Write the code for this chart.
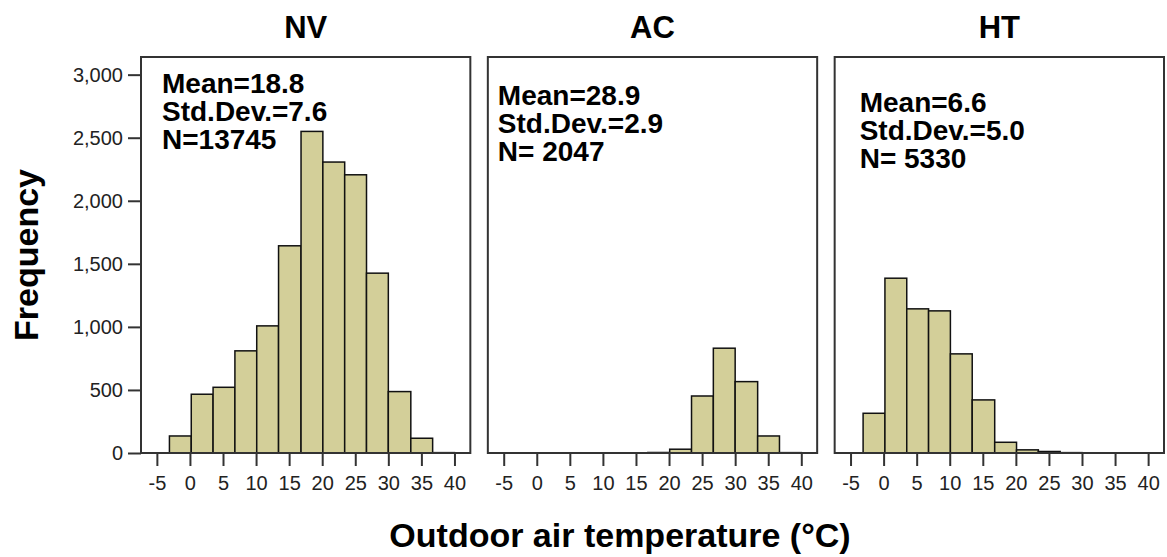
<!DOCTYPE html>
<html>
<head>
<meta charset="utf-8">
<script src="https://cdn.jsdelivr.net/npm/d3@7"></script>
<style>
  body { margin: 0; background: #fff; }
  svg { display: block; font-family: "Liberation Sans", Arial, sans-serif; }
</style>
</head>
<body>
<div id="chart"></div>
<script>
// histogram bins (outdoor air temperature, °C) - same for all panels
const binEdges = [-3.1, 0.2, 3.5, 6.8, 10.1, 13.4, 16.8, 20.1, 23.4, 26.7, 30.0, 33.4, 36.7, 40.0];
const groups = ["NV", "AC", "HT"];
const nvCounts = [135, 466, 521, 810, 1008, 1643, 2550, 2307, 2206, 1426, 487, 117, 3];
const acCounts = [0, 0, 2, 0, 2, 0, 4, 30, 452, 831, 566, 135, 3];
const htCounts = [315, 1386, 1143, 1127, 786, 421, 85, 25, 12, 3, 2, 1, 1];
const means = ["18.8", "28.9", "6.6"];
const stdDevs = ["7.6", "2.9", "5.0"];
const nValues = ["13745", " 2047", " 5330"];
const xTicks = [-5, 0, 5, 10, 15, 20, 25, 30, 35, 40];
const yTicks = [0, 500, 1000, 1500, 2000, 2500, 3000];

function drawChart() {
  let W = 1167,
    H = 557;
  var margin = { top: 57, left: 141, right: 3, bottom: 104 },
    gap = 17.5,
    plotW = W - margin.left - margin.right,
    panelW = (plotW - gap * 2) / 3,
    height = H - margin.top - margin.bottom;

  let countsByGroup = [nvCounts, acCounts, htCounts];

  let svg = d3
    .select("#chart")
    .append("svg")
    .attr("width", W)
    .attr("height", H);

  // shared y scale
  var y = d3
    .scaleLinear()
    .domain([0, 3140])
    .range([margin.top + height, margin.top]);

  // x scale of one panel (local coords)
  var x = d3
    .scaleLinear()
    .domain([-7.4, 42.4])
    .range([0, panelW]);

  //////////
  // Y AXIS //
  //////////
  let yAxis = svg
    .append("g")
    .attr("transform", "translate(" + margin.left + ",0)")
    .call(
      d3
        .axisLeft(y)
        .tickValues(yTicks)
        .tickFormat(d3.format(","))
        .tickSize(13)
        .tickSizeOuter(0)
        .tickPadding(5)
    );
  yAxis.select(".domain").remove();
  yAxis.selectAll("line").attr("stroke", "#333").attr("stroke-width", 2);
  yAxis
    .selectAll("text")
    .style("font-size", "20px")
    .style("font-family", "'Liberation Sans', Arial, sans-serif")
    .attr("fill", "#222");

  svg
    .append("text")
    .attr("transform", "translate(38," + (margin.top + height / 2) + ") rotate(-90)")
    .attr("text-anchor", "middle")
    .style("font-size", "34px")
    .style("font-weight", "bold")
    .text("Frequency");

  svg
    .append("text")
    .attr("x", 620)
    .attr("y", 547)
    .attr("text-anchor", "middle")
    .style("font-size", "34px")
    .style("font-weight", "bold")
    .text("Outdoor air temperature (°C)");

  // annotation placement inside each panel [dx, first baseline]
  let notePos = [
    [21, 93],
    [10, 105],
    [25, 112]
  ];

  //////////
  // PANELS //
  //////////
  groups.forEach((name, i) => {
    let left = margin.left + i * (panelW + gap);
    let g = svg.append("g").attr("transform", "translate(" + left + ",0)");

    let bins = countsByGroup[i]
      .map((c, k) => ({ x0: binEdges[k], x1: binEdges[k + 1], count: c }))
      .filter(d => d.count > 0);

    g.selectAll("rect.bar")
      .data(bins)
      .enter()
      .append("rect")
      .attr("class", "bar")
      .attr("x", d => x(d.x0))
      .attr("width", d => x(d.x1) - x(d.x0))
      .attr("y", d => y(d.count))
      .attr("height", d => y(0) - y(d.count))
      .attr("fill", "#d3cf99")
      .attr("stroke", "#111")
      .attr("stroke-width", 1.5);

    // frame
    g.append("rect")
      .attr("x", 0)
      .attr("y", margin.top)
      .attr("width", panelW)
      .attr("height", height)
      .attr("fill", "none")
      .attr("stroke", "#333")
      .attr("stroke-width", 2);

    // x axis
    let xAxis = g
      .append("g")
      .attr("transform", "translate(0," + (margin.top + height) + ")")
      .call(
        d3
          .axisBottom(x)
          .tickValues(xTicks)
          .tickFormat(d => String(d))
          .tickSize(13)
          .tickSizeOuter(0)
          .tickPadding(10)
      );
    xAxis.select(".domain").remove();
    xAxis.selectAll("line").attr("stroke", "#333").attr("stroke-width", 2);
    xAxis
      .selectAll("text")
      .style("font-size", "20px")
      .style("font-family", "'Liberation Sans', Arial, sans-serif")
      .attr("fill", "#222");

    // panel title
    g.append("text")
      .attr("x", panelW / 2)
      .attr("y", 38)
      .attr("text-anchor", "middle")
      .style("font-size", "31px")
      .style("font-weight", "bold")
      .text(name);

    // stats
    let lines = ["Mean=" + means[i], "Std.Dev.=" + stdDevs[i], "N=" + nValues[i]];
    g.selectAll("text.note")
      .data(lines)
      .enter()
      .append("text")
      .attr("class", "note")
      .attr("x", notePos[i][0])
      .attr("y", (d, k) => notePos[i][1] + k * 28)
      .style("font-size", "28px")
      .style("font-weight", "bold")
      .style("white-space", "pre")
      .text(d => d);
  });
}
drawChart();
</script>
</body>
</html>
